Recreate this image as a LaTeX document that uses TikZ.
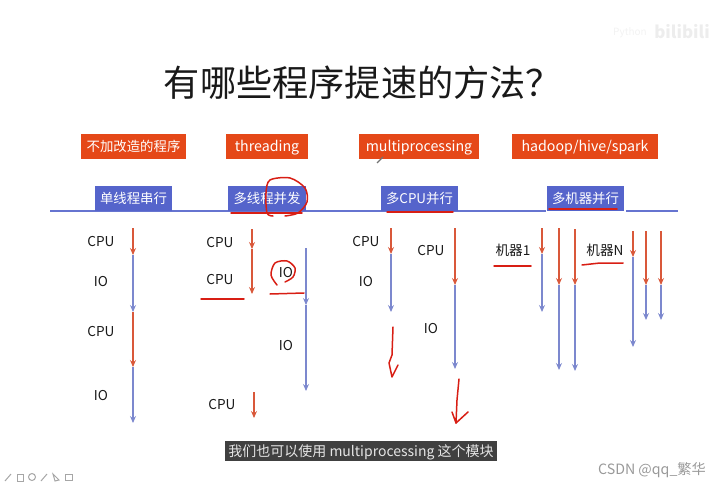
\documentclass[tikz,border=0pt]{standalone}
\usepackage{fontspec}
\setmainfont{Noto Sans CJK SC}
\usepackage{xcolor}
\usetikzlibrary{arrows.meta}
\definecolor{tagred}{HTML}{E54818}
\definecolor{tagblue}{HTML}{5564CB}
\definecolor{runred}{HTML}{D9583A}
\definecolor{waitblue}{HTML}{7C88CE}
\definecolor{penred}{HTML}{D81E14}

\begin{document}
\begin{tikzpicture}[
    x=1pt, y=-1pt,
    titulo/.style={font=\fontsize{36.2}{37}\selectfont, text=black!90, inner sep=0pt},
    metodo/.style={fill=tagred, text=white, inner sep=0pt, minimum height=25pt,
        text height=12pt, text depth=2pt, font=\fontsize{14.2}{15}\selectfont},
    metodocn/.style={metodo, font=\fontsize{13.4}{14}\selectfont},
    modo/.style={fill=tagblue, text=white, inner sep=0pt, minimum height=25.5pt,
        text height=12pt, text depth=2pt, font=\fontsize{13.4}{14}\selectfont},
    rotulo/.style={inner sep=0pt, text=black!90, text height=11pt, text depth=1pt,
        font=\fontsize{13.6}{14}\selectfont},
    legenda/.style={fill=black!75, text=white!90!black, inner sep=0pt, minimum width=272pt,
        minimum height=20pt, text height=12pt, text depth=2pt,
        font=\fontsize{14}{15}\selectfont},
    marca/.style={inner sep=0pt, text=black!40, font=\fontsize{14.2}{15}\selectfont},
    eixo/.style={draw=tagblue!90, line width=1.1pt},
    cpu/.style={-{Stealth[length=7pt, width=6pt, inset=2.5pt]}, runred, line width=1.1pt},
    io/.style={-{Stealth[length=7pt, width=6pt, inset=2.5pt]}, waitblue, line width=1.1pt},
    caneta/.style={penred, line width=1.5pt, line cap=round, line join=round},
    icone/.style={draw=black!35, line width=1pt}
]
    \useasboundingbox (0,0) rectangle (721,487);

    % titulo e marcas
    \node[titulo] (title) at (363,83) {有哪些程序提速的方法？};
    \node[inner sep=0pt, text=black!7, font=\fontsize{17}{17}\bfseries\selectfont] (logo) at (682,32) {bilibili};
    \node[inner sep=0pt, text=black!5, font=\fontsize{10}{10}\selectfont] (py) at (630,33) {Python};
    \node[marca] (csdn) at (652,470) {CSDN @qq\_繁华};

    % linha de base
    \coordinate (base0) at (50,211);
    \coordinate (base1) at (546,211);
    \coordinate (base2) at (626,211);
    \coordinate (base3) at (678,211);
    \draw[eixo] (base0) -- (base1);
    \draw[eixo] (base2) -- (base3);

    % caixas
    \node[metodocn, minimum width=105pt] (plain) at (133.5,146.5) {不加改造的程序};
    \node[metodo, minimum width=82pt] (thread) at (267,146.5) {threading};
    \node[metodo, minimum width=120pt] (mproc) at (419,146.5) {multiprocessing};
    \node[metodo, minimum width=146pt] (hadoop) at (585,146.5) {hadoop/hive/spark};
    \node[modo, minimum width=77pt] (serial) at (133.5,198.5) {单线程串行};
    \node[modo, minimum width=78pt] (concur) at (267,198.5) {多线程并发};
    \node[modo, minimum width=77pt] (multicpu) at (419.5,198.5) {多CPU并行};
    \node[modo, minimum width=77pt] (cluster) at (585.5,198.5) {多机器并行};

    % rotulos
    \node[rotulo] (c1) at (101,241) {CPU};
    \node[rotulo] (i1) at (101,281) {IO};
    \node[rotulo] (c2) at (101,331) {CPU};
    \node[rotulo] (i2) at (101,395) {IO};
    \node[rotulo] (c3) at (220,242) {CPU};
    \node[rotulo] (c4) at (220,279) {CPU};
    \node[rotulo] (i3) at (286,272) {IO};
    \node[rotulo] (i4) at (286,345) {IO};
    \node[rotulo] (c5) at (222,404) {CPU};
    \node[rotulo] (c6) at (366,241) {CPU};
    \node[rotulo] (i5) at (366,281) {IO};
    \node[rotulo] (c7) at (431,250) {CPU};
    \node[rotulo] (i6) at (431,328) {IO};
    \node[rotulo] (m1) at (513,250) {机器1};
    \node[rotulo] (mn) at (605,250) {机器N};

    % serial
    \coordinate (sa) at (133,228);
    \coordinate (sb) at (133,255);
    \coordinate (sc) at (133,312);
    \coordinate (sd) at (133,367);
    \coordinate (se) at (133,423);
    \draw[io] (sb) -- (sc);
    \draw[io] (sd) -- (se);
    \draw[cpu] (sa) -- (sb);
    \draw[cpu] (sc) -- (sd);

    % threads
    \coordinate (ta) at (252,229);
    \coordinate (tb) at (252,249);
    \coordinate (tc) at (252,294);
    \coordinate (td) at (254,392);
    \coordinate (te) at (254,418);
    \coordinate (tf) at (306,248);
    \coordinate (tg) at (306,305);
    \coordinate (th) at (306,391);
    \draw[cpu] (ta) -- (tb);
    \draw[cpu] (tb) -- (tc);
    \draw[cpu] (td) -- (te);
    \draw[io] (tf) -- (tg);
    \draw[io] (tg) -- (th);

    % processos
    \coordinate (pa) at (391,228);
    \coordinate (pb) at (391,254);
    \coordinate (pc) at (391,312);
    \coordinate (pd) at (455,228);
    \coordinate (pe) at (455,285);
    \coordinate (pf) at (455,369);
    \draw[io] (pb) -- (pc);
    \draw[io] (pe) -- (pf);
    \draw[cpu] (pa) -- (pb);
    \draw[cpu] (pd) -- (pe);

    % maquinas
    \foreach \nome/\px/\ya/\yb/\yc in {a/542/228/254/312, b/559/228/285/370, c/575/229/285/371,
        d/633/231/257/347, e/646/231/285/320, f/661/231/285/320} {
        \coordinate (\nome0) at (\px,\ya);
        \coordinate (\nome1) at (\px,\yb);
        \coordinate (\nome2) at (\px,\yc);
        \draw[io] (\nome1) -- (\nome2);
        \draw[cpu] (\nome0) -- (\nome1);
    }

    % tracos a mao
    \draw[caneta] plot[smooth] coordinates {(273,216) (267,213) (266,193) (270,180) (290,178) (305,188) (307,202) (298,213) (285,216)};
    \draw[caneta] plot[smooth] coordinates {(277,285) (271,275) (275,263) (287,261) (295,268) (293,277) (285,282)};
    \draw[caneta] (231,213) -- (302,213);
    \draw[caneta] (201,299) -- (244,299);
    \draw[caneta] (270,294) -- (304,293);
    \draw[caneta] (387,212) -- (453,212);
    \draw[caneta] (549,209) -- (617,209);
    \draw[caneta] (494,266) -- (531,266);
    \draw[caneta] (582,265) -- (600,263) -- (623,263);
    \draw[caneta] (393,327) -- (392,355) -- (389,363) -- (392,377) -- (398,365);
    \draw[caneta] (459,379) -- (457,400) -- (456,423) -- (452,412);
    \draw[caneta] (456,423) -- (468,412);
    \draw[black!55, line width=1.2pt] (377,163) -- (383,157);

    % legenda
    \node[legenda] (caption) at (361,451) {我们也可以使用 multiprocessing 这个模块};

    % icones
    \draw[icone] (5,481) -- (11,474);
    \draw[icone] (17,474) rectangle (23,481);
    \draw[icone] (32,477) circle (3.5pt);
    \draw[icone] (41,481) -- (47,474);
    \draw[icone] (53,474) -- (59,480) -- (55,481) -- cycle;
    \draw[icone] (65,474) rectangle (72,480);
\end{tikzpicture}
\end{document}
